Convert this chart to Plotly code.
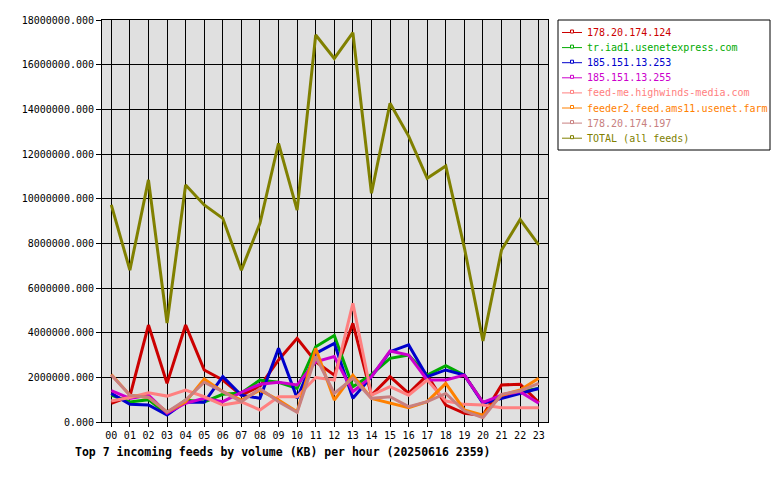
import plotly.graph_objects as go

hours = ["%02d" % h for h in range(24)]

feed_names = [
    "178.20.174.124",
    "tr.iad1.usenetexpress.com",
    "185.151.13.253",
    "185.151.13.255",
    "feed-me.highwinds-media.com",
    "feeder2.feed.ams11.usenet.farm",
    "178.20.174.197",
    "TOTAL (all feeds)",
]
feed_colors = ["#cc0000", "#00aa00", "#0000cc", "#cc00cc", "#ff8080", "#ff8000", "#c88080", "#808000"]

red_124 = [840000, 1150000, 4340000, 1730000, 4340000, 2330000, 1880000, 1200000, 1600000, 2780000, 3750000, 2700000,
           2100000, 4420000, 1200000, 2030000, 1280000, 2100000, 760000, 390000, 300000, 1660000, 1690000, 880000]
green_iad1 = [1200000, 900000, 1000000, 350000, 980000, 900000, 1240000, 1300000, 1880000, 1780000, 1500000, 3370000,
              3870000, 1580000, 2130000, 2850000, 3000000, 2100000, 2520000, 2100000, 880000, 1100000, 1360000, 1500000]
blue_253 = [1280000, 790000, 760000, 310000, 900000, 880000, 2030000, 1200000, 1060000, 3300000, 1060000, 3070000,
            3520000, 1060000, 2030000, 3150000, 3450000, 2030000, 2330000, 2100000, 840000, 1060000, 1280000, 1500000]
magenta_255 = [1400000, 1060000, 1200000, 400000, 840000, 1060000, 910000, 1330000, 1690000, 1780000, 1660000, 2700000,
               2930000, 1360000, 2030000, 3180000, 3000000, 1880000, 1880000, 2100000, 880000, 1200000, 1360000, 840000]
salmon_feedme = [940000, 1100000, 1310000, 1160000, 1430000, 1130000, 760000, 900000, 540000, 1130000, 1130000, 1990000,
                 1880000, 5310000, 1200000, 1580000, 1200000, 1880000, 940000, 790000, 760000, 640000, 640000, 640000]
orange_feeder2 = [2130000, 1200000, 1100000, 450000, 900000, 1930000, 1360000, 980000, 1430000, 980000, 460000, 3300000,
                  980000, 2100000, 1060000, 840000, 640000, 910000, 1730000, 540000, 310000, 1200000, 1430000, 1960000]
rosy_197 = [2100000, 1200000, 1100000, 450000, 980000, 1780000, 1360000, 910000, 1500000, 910000, 430000, 2930000,
            1280000, 1960000, 1060000, 1130000, 690000, 910000, 1280000, 490000, 190000, 1240000, 1390000, 1730000]
total_all = [9720000, 6800000, 10840000, 4430000, 10610000, 9720000, 9120000, 6800000, 8900000, 12480000, 9490000, 17330000,
             16280000, 17430000, 10240000, 14270000, 12800000, 10910000, 11460000, 7800000, 3630000, 7700000, 9070000, 7930000]

series = [red_124, green_iad1, blue_253, magenta_255, salmon_feedme, orange_feeder2, rosy_197, total_all]

y_ticks = list(range(0, 18000001, 2000000))

FONT = "DejaVu Sans Mono"

# plot-area geometry in pixels (for legend / title placement)
L, R, T, B = 102, 548, 20, 422
PW, PH = R - L, B - T


def px_x(px):
    return (px - L) / PW


def px_y(py):
    return (B - py) / PH


fig = go.Figure()
for name, color, vals in zip(feed_names, feed_colors, series):
    fig.add_trace(go.Scatter(
        x=hours, y=vals, mode="lines", name=name,
        line=dict(color=color, width=3),
    ))

shapes = []
annotations = []
# legend box
shapes.append(dict(type="rect", xref="paper", yref="paper",
                   x0=px_x(558), x1=px_x(770), y0=px_y(20), y1=px_y(150),
                   line=dict(color="black", width=1), fillcolor="white", layer="above"))
for i, (name, color) in enumerate(zip(feed_names, feed_colors)):
    yc = 32.5 + 15.1 * i
    shapes.append(dict(type="line", xref="paper", yref="paper",
                       x0=px_x(562), x1=px_x(582), y0=px_y(yc), y1=px_y(yc),
                       line=dict(color=color, width=1), layer="above"))
    shapes.append(dict(type="rect", xref="paper", yref="paper",
                       x0=px_x(570.5), x1=px_x(573.5), y0=px_y(yc - 2.5), y1=px_y(yc + 0.5),
                       line=dict(color=color, width=1), fillcolor="white", layer="above"))
    annotations.append(dict(text=name, xref="paper", yref="paper",
                            x=px_x(585), y=px_y(yc), xanchor="left", yanchor="middle",
                            showarrow=False, font=dict(family=FONT, size=10, color=color)))

annotations.append(dict(
    text="<b>Top 7 incoming feeds by volume (KB) per hour (20250616 2359)</b>",
    xref="paper", yref="paper",
    x=px_x(73), y=px_y(452),
    xanchor="left", yanchor="middle", showarrow=False,
    font=dict(family=FONT, size=11.5, color="black"),
))

fig.update_layout(
    width=780, height=480,
    margin=dict(l=L, r=780 - R, t=T, b=480 - B),
    paper_bgcolor="white",
    plot_bgcolor="#e0e0e0",
    font=dict(family=FONT, size=10, color="black"),
    showlegend=False,
    shapes=shapes,
    annotations=annotations,
)
fig.update_xaxes(
    type="category", range=[-0.5, 23.5],
    tickmode="array", tickvals=hours, ticktext=hours,
    showgrid=True, gridcolor="black", gridwidth=1,
    ticks="outside", ticklen=4, tickcolor="black",
    showline=True, linecolor="black", linewidth=1, mirror=True,
    zeroline=False,
)
fig.update_yaxes(
    range=[0, 18000000], tickmode="array", tickvals=y_ticks,
    tickformat=".3f",
    showgrid=True, gridcolor="black", gridwidth=1,
    ticks="outside", ticklen=5, tickcolor="black",
    showline=True, linecolor="black", linewidth=1, mirror=True,
    zeroline=False,
)

fig.write_html("out.html")
